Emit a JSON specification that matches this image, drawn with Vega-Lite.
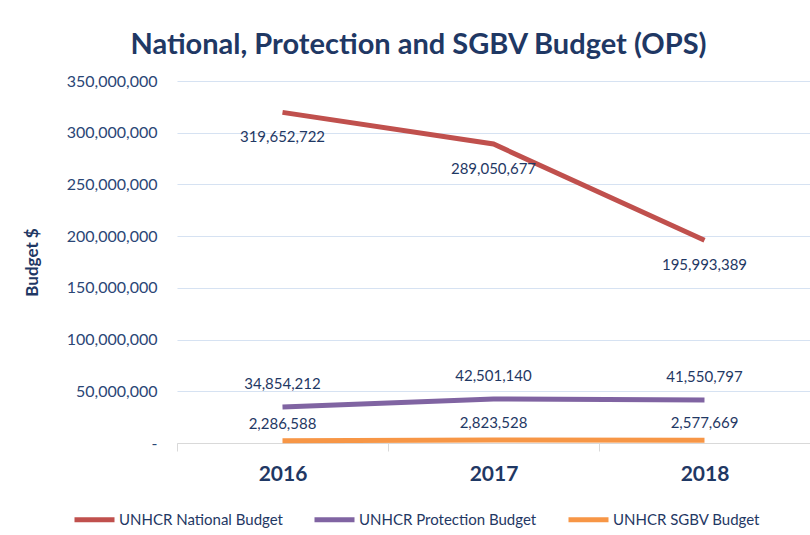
{
  "$schema": "https://vega.github.io/schema/vega-lite/v6.json",
  "width": 633,
  "height": 362,
  "autosize": {"type": "none"},
  "padding": {"left": 177, "top": 81, "right": 0, "bottom": 92},
  "background": "white",
  "config": {"view": {"stroke": null}, "font": "Lato"},
  "title": {
    "text": "National, Protection and SGBV Budget (OPS)",
    "font": "Lato",
    "fontSize": 29,
    "fontWeight": "bold",
    "color": "#1F3864",
    "anchor": "middle",
    "dx": -75,
    "offset": 13
  },
  "data": {
    "values": [
      {"year": "2016", "series": "UNHCR National Budget", "budget": 319652722},
      {"year": "2017", "series": "UNHCR National Budget", "budget": 289050677},
      {"year": "2018", "series": "UNHCR National Budget", "budget": 195993389},
      {"year": "2016", "series": "UNHCR Protection Budget", "budget": 34854212},
      {"year": "2017", "series": "UNHCR Protection Budget", "budget": 42501140},
      {"year": "2018", "series": "UNHCR Protection Budget", "budget": 41550797},
      {"year": "2016", "series": "UNHCR SGBV Budget", "budget": 2286588},
      {"year": "2017", "series": "UNHCR SGBV Budget", "budget": 2823528},
      {"year": "2018", "series": "UNHCR SGBV Budget", "budget": 2577669}
    ]
  },
  "encoding": {
    "x": {
      "field": "year",
      "type": "ordinal",
      "bandPosition": 0.5,
      "scale": {"type": "band", "paddingInner": 0, "paddingOuter": 0},
      "axis": {
        "title": null,
        "labelAngle": 0,
        "labelFont": "Lato",
        "labelFontSize": 21,
        "labelFontWeight": "bold",
        "labelColor": "#1F3864",
        "labelPadding": 12,
        "tickBand": "extent",
        "tickSize": 8,
        "tickColor": "#D9D9D9",
        "domainColor": "#D9D9D9",
        "grid": false
      }
    },
    "y": {
      "field": "budget",
      "type": "quantitative",
      "scale": {"domain": [0, 350000000], "nice": false},
      "axis": {
        "title": "Budget $",
        "titleFont": "Lato",
        "titleFontSize": 17,
        "titleFontWeight": "bold",
        "titleColor": "#1F3864",
        "titleAngle": -90,
        "titleX": -145,
        "titleY": 181,
        "titleAlign": "center",
        "titleBaseline": "middle",
        "values": [0, 50000000, 100000000, 150000000, 200000000, 250000000, 300000000, 350000000],
        "labelExpr": "datum.value == 0 ? '-' : format(datum.value, ',')",
        "labelFont": "Lato",
        "labelFontSize": 16,
        "labelColor": "#2B4676",
        "labelPadding": 20,
        "ticks": false,
        "domain": false,
        "grid": true,
        "gridColor": "#D6E2F2",
        "gridWidth": 1.2
      }
    }
  },
  "layer": [
    {
      "mark": {"type": "line", "strokeWidth": 5},
      "encoding": {
        "color": {
          "field": "series",
          "type": "nominal",
          "scale": {
            "domain": ["UNHCR National Budget", "UNHCR Protection Budget", "UNHCR SGBV Budget"],
            "range": ["#C0504D", "#8064A2", "#F79646"]
          },
          "legend": {
            "title": null,
            "orient": "none",
            "legendX": -105,
            "legendY": 416,
            "direction": "horizontal",
            "symbolType": "stroke",
            "symbolSize": 1600,
            "symbolStrokeWidth": 5,
            "labelFont": "Lato",
            "labelFontSize": 15,
            "labelColor": "#1F3864",
            "labelLimit": 400,
            "labelOffset": 2,
            "columnPadding": 21,
            "padding": 0
          }
        }
      }
    },
    {
      "transform": [{"filter": "datum.series == 'UNHCR National Budget'"}],
      "mark": {"type": "text", "dy": 25, "font": "Lato", "fontSize": 15, "color": "#1F3864"},
      "encoding": {"text": {"field": "budget", "type": "quantitative", "format": ","}}
    },
    {
      "transform": [{"filter": "datum.series == 'UNHCR Protection Budget'"}],
      "mark": {"type": "text", "dy": -23, "font": "Lato", "fontSize": 15, "color": "#1F3864"},
      "encoding": {"text": {"field": "budget", "type": "quantitative", "format": ","}}
    },
    {
      "transform": [{"filter": "datum.series == 'UNHCR SGBV Budget'"}],
      "mark": {"type": "text", "dy": -17, "font": "Lato", "fontSize": 15, "color": "#1F3864"},
      "encoding": {"text": {"field": "budget", "type": "quantitative", "format": ","}}
    }
  ]
}
